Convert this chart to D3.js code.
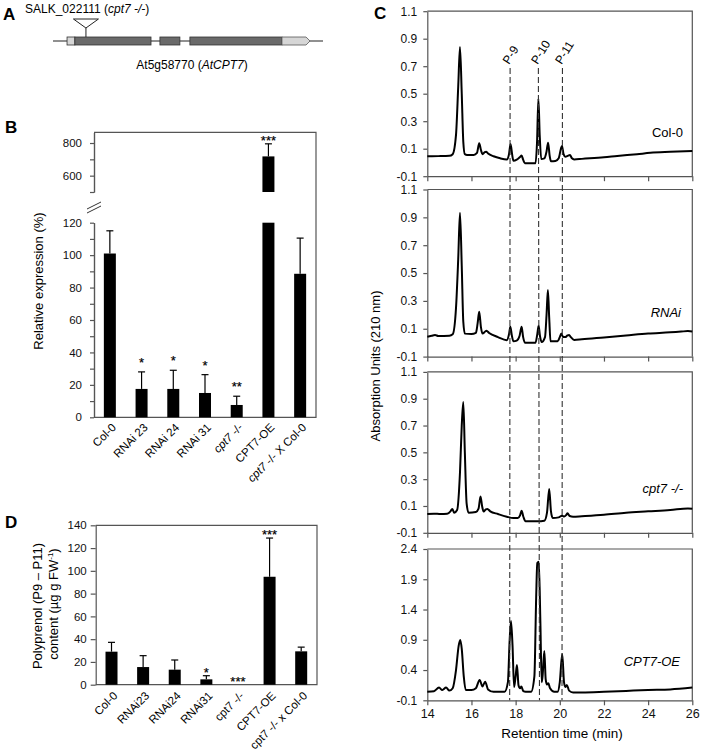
<!DOCTYPE html>
<html><head><meta charset="utf-8">
<script src="https://cdn.jsdelivr.net/npm/d3@7"></script>
<style>body{margin:0;background:#fff}svg{font-family:"Liberation Sans",Arial,sans-serif}</style>
</head><body><svg id="c" width="702" height="755"></svg>
<script>
// ---------------- DATA ----------------
// Panel A: gene model (relative gene coordinates, 0-1000)
const geneFeatures = [
  {type: "utr5", start: 52, end: 81},
  {type: "exon", start: 81, end: 363},
  {type: "exon", start: 396, end: 470},
  {type: "exon", start: 507, end: 848},
  {type: "utr3", start: 848, end: 952}
];
const insertionPos = 122;

// Panel B: relative expression (%)
const bCategories = ["Col-0", "RNAi 23", "RNAi 24", "RNAi 31", "cpt7 -/-", "CPT7-OE", "cpt7 -/- X Col-0"];
const bValues = [101, 17.5, 17.5, 15, 7.6, 718, 88.5];
const bErrors = [14, 10.5, 11.5, 11.3, 5.4, 77, 22];
const bStars = ["", "*", "*", "*", "**", "***", ""];
const bLowTicks = [0, 20, 40, 60, 80, 100, 120];
const bLowMinor = [10, 30, 50, 70, 90, 110];
const bHighTicks = [600, 800];
const bHighMinor = [500, 700];

// Panel D: polyprenol content
const dCategories = ["Col-0", "RNAi23", "RNAi24", "RNAi31", "cpt7 -/-", "CPT7-OE", "cpt7 -/- x Col-0"];
const dValues = [29, 15.5, 13.2, 4.7, 0, 94.8, 29.3];
const dErrors = [8.2, 10, 8.5, 3.2, 0, 34, 3.7];
const dStars = ["", "", "", "*", "***", "***", ""];
const dTicks = [0, 20, 40, 60, 80, 100, 120, 140];

// Panel C: chromatograms [retention time (min), absorbance]
const colTrace = [[14.0,0.045],[14.5,0.046],[15.0,0.048],[15.15,0.06],[15.3,0.2],[15.4,0.55],[15.48,0.84],[15.56,0.5],[15.63,0.15],[15.7,0.06],[15.8,0.055],[16.1,0.055],[16.25,0.07],[16.35,0.14],[16.43,0.09],[16.5,0.06],[16.6,0.075],[16.66,0.078],[16.75,0.065],[17.0,0.045],[17.3,0.03],[17.6,0.022],[17.7,0.06],[17.77,0.134],[17.84,0.06],[17.9,0.012],[18.05,0.02],[18.2,0.04],[18.27,0.05],[18.34,0.02],[18.42,-0.005],[18.7,-0.006],[18.9,-0.005],[18.97,0.15],[19.03,0.464],[19.09,0.2],[19.16,0.025],[19.3,0.03],[19.4,0.08],[19.47,0.144],[19.54,0.05],[19.6,0.008],[19.8,0.01],[19.95,0.03],[20.05,0.1],[20.1,0.12],[20.17,0.06],[20.25,0.042],[20.38,0.05],[20.46,0.054],[20.55,0.03],[20.65,0.022],[21.0,0.026],[22.0,0.037],[22.6,0.047],[23.5,0.06],[24.1,0.07],[25.0,0.077],[26.0,0.083]];
const rnaiTrace = [[14.0,0.043],[14.2,0.05],[14.35,0.055],[14.5,0.048],[15.0,0.05],[15.15,0.06],[15.3,0.25],[15.4,0.6],[15.48,0.933],[15.56,0.55],[15.63,0.15],[15.7,0.065],[16.0,0.062],[16.2,0.07],[16.28,0.14],[16.35,0.222],[16.43,0.11],[16.5,0.065],[16.62,0.08],[16.68,0.086],[16.8,0.07],[17.2,0.04],[17.6,0.018],[17.7,0.06],[17.76,0.114],[17.83,0.05],[17.9,0.01],[18.05,0.015],[18.18,0.05],[18.27,0.114],[18.34,0.04],[18.42,0.0],[18.9,0.0],[18.98,0.06],[19.04,0.122],[19.1,0.05],[19.18,0.005],[19.33,0.04],[19.4,0.2],[19.46,0.378],[19.52,0.18],[19.58,0.01],[19.9,0.01],[20.0,0.04],[20.07,0.066],[20.15,0.04],[20.25,0.04],[20.35,0.052],[20.42,0.055],[20.5,0.04],[20.65,0.02],[21.0,0.024],[22.0,0.038],[23.0,0.052],[24.0,0.066],[25.0,0.074],[25.5,0.08],[25.8,0.083],[26.0,0.08]];
const cptTrace = [[14.0,0.04],[14.3,0.043],[14.6,0.04],[14.9,0.042],[15.05,0.06],[15.13,0.078],[15.22,0.05],[15.35,0.07],[15.48,0.35],[15.56,0.7],[15.63,0.875],[15.7,0.5],[15.78,0.12],[15.87,0.05],[16.2,0.055],[16.32,0.08],[16.41,0.17],[16.48,0.1],[16.55,0.058],[16.65,0.075],[16.72,0.078],[16.85,0.06],[17.2,0.04],[17.6,0.02],[17.9,0.01],[18.1,0.01],[18.2,0.03],[18.27,0.065],[18.35,0.02],[18.45,-0.014],[19.0,-0.014],[19.3,-0.01],[19.42,0.05],[19.52,0.227],[19.6,0.06],[19.68,0.01],[19.95,0.015],[20.1,0.028],[20.2,0.022],[20.3,0.035],[20.35,0.045],[20.45,0.025],[20.6,0.02],[21.0,0.024],[22.0,0.035],[23.0,0.05],[24.0,0.06],[25.0,0.07],[25.8,0.082],[26.0,0.08]];
const oeTrace = [[14.0,0.043],[14.3,0.05],[14.53,0.11],[14.68,0.07],[14.85,0.11],[15.0,0.06],[15.15,0.1],[15.3,0.4],[15.42,0.8],[15.49,0.897],[15.56,0.75],[15.65,0.3],[15.74,0.07],[16.0,0.07],[16.2,0.1],[16.37,0.236],[16.5,0.13],[16.62,0.208],[16.75,0.08],[17.0,0.04],[17.5,0.04],[17.65,0.2],[17.73,0.9],[17.79,1.21],[17.86,0.8],[17.93,0.12],[18.0,0.3],[18.06,0.484],[18.13,0.15],[18.2,0.1],[18.26,0.126],[18.35,0.05],[18.45,0.04],[18.7,0.04],[18.85,0.3],[18.93,1.6],[18.98,2.17],[19.05,2.19],[19.12,1.2],[19.18,0.2],[19.22,0.3],[19.3,0.715],[19.36,0.25],[19.42,0.16],[19.48,0.18],[19.56,0.1],[19.75,0.04],[19.9,0.04],[20.0,0.2],[20.11,0.665],[20.19,0.2],[20.25,0.12],[20.32,0.153],[20.42,0.06],[20.6,0.03],[21.0,0.03],[22.0,0.04],[23.0,0.055],[24.0,0.07],[25.0,0.08],[26.0,0.11]];
const cNames = ["Col-0", "RNAi", "cpt7 -/-", "CPT7-OE"];
const cSmallTicks = [-0.1, 0.1, 0.3, 0.5, 0.7, 0.9, 1.1];
const cLargeTicks = [-0.1, 0.4, 0.9, 1.4, 1.9, 2.4];
const cTimeTicks = [14, 16, 18, 20, 22, 24, 26];
const peakMarkers = [{label: "P-9", t0: 17.75, t1: 17.73}, {label: "P-10", t0: 19.03, t1: 19.08}, {label: "P-11", t0: 20.12, t1: 20.1}];

// ---------------- DRAW ----------------
const svg = d3.select("#c");
const FRAME = "#555";
const FF = "'Liberation Sans', Arial, sans-serif";

[["A", 3, 20], ["B", 5, 133], ["C", 374, 18.5], ["D", 5, 528]].forEach(([t, x, y]) => {
  svg.append("text").attr("x", x).attr("y", y).attr("font-size", 17).attr("font-weight", "bold").text(t);
});

// ---- Panel A ----
(function () {
  const gx = d3.scaleLinear().domain([0, 1000]).range([53, 323]);
  const g = svg.append("g");
  const yl = 41, h = 8;
  g.append("line").attr("x1", gx(0)).attr("x2", gx(1000)).attr("y1", yl).attr("y2", yl).attr("stroke", "#222").attr("stroke-width", 1.2);
  geneFeatures.forEach(f => {
    const x0 = gx(f.start), x1 = gx(f.end);
    if (f.type === "utr3") {
      const xb = x1 - 4;
      g.append("path").attr("d", `M${x0},${yl - h / 2}H${xb}L${x1},${yl}L${xb},${yl + h / 2}H${x0}Z`)
        .attr("fill", "#d6d6d6").attr("stroke", "#555").attr("stroke-width", 0.8);
    } else {
      g.append("rect").attr("x", x0).attr("y", yl - h / 2).attr("width", x1 - x0).attr("height", h)
        .attr("fill", f.type === "exon" ? "#6a6a6a" : "#d6d6d6").attr("stroke", "#333").attr("stroke-width", 0.8);
    }
  });
  const ix = gx(insertionPos);
  g.append("line").attr("x1", ix).attr("x2", ix).attr("y1", 28).attr("y2", yl - h / 2).attr("stroke", "#222").attr("stroke-width", 1);
  g.append("path").attr("d", `M${ix - 12.5},19H${ix + 12.5}L${ix},28Z`).attr("fill", "#fff").attr("stroke", "#222").attr("stroke-width", 1);
  const t1 = g.append("text").attr("x", 25).attr("y", 13).attr("font-size", 12);
  t1.append("tspan").text("SALK_022111 (");
  t1.append("tspan").attr("font-style", "italic").text("cpt7 -/-");
  t1.append("tspan").text(")");
  const t2 = g.append("text").attr("x", 192).attr("y", 69).attr("font-size", 12).attr("text-anchor", "middle");
  t2.append("tspan").text("At5g58770 (");
  t2.append("tspan").attr("font-style", "italic").text("AtCPT7");
  t2.append("tspan").text(")");
})();

function styleAxis(sel, fs) {
  sel.selectAll("path").attr("stroke", FRAME).attr("stroke-width", 1.2);
  sel.selectAll("line").attr("stroke", FRAME).attr("stroke-width", 1.2);
  sel.selectAll("text").attr("font-size", fs).attr("fill", "#111").attr("font-family", FF);
}
function star(g, x, y, s) {
  g.append("text").attr("x", x).attr("y", y).attr("text-anchor", "middle").attr("font-size", 13)
    .attr("font-family", FF).attr("fill", "#000").attr("stroke", "#000").attr("stroke-width", 0.2).text(s);
}

// ---- Panel B ----
(function () {
  const L = 94, R = 316;
  const bx = d3.scalePoint().domain(bCategories).range([L, R]).padding(0.5);
  const yLow = d3.scaleLinear().domain([0, 120]).range([417.3, 222.7]);
  const yHigh = d3.scaleLinear().domain([500, 865]).range([192, 132.4]);
  const g = svg.append("g");
  const bw = 12;
  g.append("path").attr("d", `M${L},${yHigh(865)}H${R}V${yLow(0)}H${L}`).attr("fill", "none").attr("stroke", FRAME).attr("stroke-width", 1.2);
  const aLow = g.append("g").attr("transform", `translate(${L},0)`)
    .call(d3.axisLeft(yLow).tickValues(bLowTicks).tickSize(4).tickPadding(8).tickSizeOuter(0));
  styleAxis(aLow, 11.5);
  const aLowM = g.append("g").attr("transform", `translate(${L},0)`)
    .call(d3.axisLeft(yLow).tickValues(bLowMinor).tickSize(4).tickFormat("").tickSizeOuter(0));
  styleAxis(aLowM, 11.5);
  const aHigh = g.append("g").attr("transform", `translate(${L},0)`)
    .call(d3.axisLeft(yHigh).tickValues(bHighTicks).tickSize(4).tickPadding(8).tickSizeOuter(0));
  styleAxis(aHigh, 11.5);
  const aHighM = g.append("g").attr("transform", `translate(${L},0)`)
    .call(d3.axisLeft(yHigh).tickValues(bHighMinor).tickSize(4).tickFormat("").tickSizeOuter(0));
  styleAxis(aHighM, 11.5);
  [0, 4].forEach(o => {
    g.append("line").attr("x1", 87).attr("y1", 209 + o).attr("x2", 101).attr("y2", 202 + o)
      .attr("stroke", "#333").attr("stroke-width", 1);
  });
  bCategories.forEach((c, i) => {
    const cx = bx(c), v = bValues[i], e = bErrors[i];
    let yTop;
    if (v > 120) {
      g.append("rect").attr("x", cx - bw / 2).attr("y", yHigh(v)).attr("width", bw).attr("height", yHigh(500) - yHigh(v)).attr("fill", "#000");
      g.append("rect").attr("x", cx - bw / 2).attr("y", yLow(120)).attr("width", bw).attr("height", yLow(0) - yLow(120)).attr("fill", "#000");
      yTop = yHigh(v + e);
      g.append("line").attr("x1", cx).attr("x2", cx).attr("y1", yHigh(v)).attr("y2", yTop).attr("stroke", "#000").attr("stroke-width", 1.2);
    } else {
      g.append("rect").attr("x", cx - bw / 2).attr("y", yLow(v)).attr("width", bw).attr("height", yLow(0) - yLow(v)).attr("fill", "#000");
      yTop = yLow(v + e);
      g.append("line").attr("x1", cx).attr("x2", cx).attr("y1", yLow(v)).attr("y2", yTop).attr("stroke", "#000").attr("stroke-width", 1.2);
    }
    g.append("line").attr("x1", cx - 3.5).attr("x2", cx + 3.5).attr("y1", yTop).attr("y2", yTop).attr("stroke", "#000").attr("stroke-width", 1.2);
    if (bStars[i]) star(g, cx, Math.max(yTop - 5, 145), bStars[i]);
    const lab = g.append("text").attr("transform", `translate(${cx + 4},${yLow(0) + 8}) rotate(-45)`)
      .attr("text-anchor", "end").attr("font-size", 11.5).attr("dy", "0.35em");
    if (c.startsWith("cpt7")) {
      lab.append("tspan").attr("font-style", "italic").text("cpt7");
      lab.append("tspan").text(c.slice(4));
    } else lab.text(c);
  });
  g.append("text").attr("transform", `translate(43,281) rotate(-90)`).attr("text-anchor", "middle").attr("font-size", 13).text("Relative expression (%)");
})();

// ---- Panel D ----
(function () {
  const L = 95.7, R = 317;
  const dx = d3.scalePoint().domain(dCategories).range([L, R]).padding(0.5);
  const y = d3.scaleLinear().domain([0, 140]).range([684.7, 525.3]);
  const g = svg.append("g");
  const bw = 12;
  g.append("path").attr("d", `M${L},${y(140)}H${R}V${y(0)}H${L}`).attr("fill", "none").attr("stroke", FRAME).attr("stroke-width", 1.2);
  const ax = g.append("g").attr("transform", `translate(${L},0)`)
    .call(d3.axisLeft(y).tickValues(dTicks).tickSize(5).tickPadding(4).tickSizeOuter(0));
  styleAxis(ax, 11.5);
  dCategories.forEach((c, i) => {
    const cx = dx(c), v = dValues[i], e = dErrors[i];
    if (v > 0) {
      g.append("rect").attr("x", cx - bw / 2).attr("y", y(v)).attr("width", bw).attr("height", y(0) - y(v)).attr("fill", "#000");
      g.append("line").attr("x1", cx).attr("x2", cx).attr("y1", y(v)).attr("y2", y(v + e)).attr("stroke", "#000").attr("stroke-width", 1.2);
      g.append("line").attr("x1", cx - 3.5).attr("x2", cx + 3.5).attr("y1", y(v + e)).attr("y2", y(v + e)).attr("stroke", "#000").attr("stroke-width", 1.2);
    }
    if (dStars[i]) star(g, cx, y(v + e) + 1, dStars[i]);
    g.append("text").attr("transform", `translate(${cx + 4},${y(0) + 9}) rotate(-45)`)
      .attr("text-anchor", "end").attr("font-size", 11.5).attr("dy", "0.35em").text(c);
  });
  g.append("text").attr("transform", `translate(42,606) rotate(-90)`).attr("text-anchor", "middle").attr("font-size", 13).text("Polyprenol (P9 \u2013 P11)");
  const t = g.append("text").attr("transform", `translate(58,604) rotate(-90)`).attr("text-anchor", "middle").attr("font-size", 13);
  t.append("tspan").text("content (\u00b5g g FW");
  t.append("tspan").attr("font-size", 8).attr("dy", -5).text("-1");
  t.append("tspan").attr("dy", 5).text(")");
})();

// ---- Panel C ----
(function () {
  const L = 427.3, R = 692.3;
  const x = d3.scaleLinear().domain([14, 26]).range([L, R]);
  const traces = [colTrace, rnaiTrace, cptTrace, oeTrace];
  const layout = [
    {top: 11.2, bottom: 176.2, dom: [-0.1, 1.1], ticks: cSmallTicks, labX: 683, labDy: -39, italic: false},
    {top: 189.5, bottom: 356.6, dom: [-0.1, 1.1], ticks: cSmallTicks, labX: 681, labDy: -40, italic: true},
    {top: 371.9, bottom: 532.8, dom: [-0.1, 1.1], ticks: cSmallTicks, labX: 683, labDy: -40, italic: true},
    {top: 549, bottom: 700.3, dom: [-0.1, 2.4], ticks: cLargeTicks, labX: 680, labDy: -34, italic: true}
  ];
  const g = svg.append("g");
  layout.forEach((lo, i) => {
    const y = d3.scaleLinear().domain(lo.dom).range([lo.bottom, lo.top]);
    const sg = g.append("g");
    sg.append("path").attr("d", `M${L},${lo.top}H${R}V${lo.bottom}`).attr("fill", "none").attr("stroke", FRAME).attr("stroke-width", 1.2);
    const ay = sg.append("g").attr("transform", `translate(${L},0)`)
      .call(d3.axisLeft(y).tickValues(lo.ticks).tickSize(4).tickPadding(6).tickSizeOuter(0).tickFormat(d => d.toFixed(1)));
    styleAxis(ay, 12);
    const axb = sg.append("g").attr("transform", `translate(0,${lo.bottom})`)
      .call(d3.axisBottom(x).tickValues(cTimeTicks).tickSize(5).tickPadding(4).tickSizeOuter(0)
        .tickFormat(i === 3 ? d3.format("d") : ""));
    styleAxis(axb, 12.5);
    const line = d3.line().x(d => x(d[0])).y(d => y(d[1])).curve(d3.curveMonotoneX);
    sg.append("path").datum(traces[i]).attr("d", line).attr("fill", "none").attr("stroke", "#000")
      .attr("stroke-width", 2).attr("stroke-linejoin", "round");
    sg.append("text").attr("x", lo.labX).attr("y", lo.bottom + lo.labDy).attr("text-anchor", "end")
      .attr("font-size", 13).attr("font-style", lo.italic ? "italic" : "normal").text(cNames[i]);
  });
  peakMarkers.forEach(p => {
    g.append("line").attr("x1", x(p.t0)).attr("x2", x(p.t1)).attr("y1", 68).attr("y2", 700.3)
      .attr("stroke", "#333").attr("stroke-width", 1.1).attr("stroke-dasharray", "6,3");
    g.append("text").attr("transform", `translate(${x(p.t0) - 1},65) rotate(-58)`).attr("font-size", 12).text(p.label);
  });
  g.append("text").attr("x", 562).attr("y", 738).attr("text-anchor", "middle").attr("font-size", 13.5).text("Retention time (min)");
  g.append("text").attr("transform", `translate(380,366) rotate(-90)`).attr("text-anchor", "middle").attr("font-size", 13).text("Absorption Units (210 nm)");
})();
</script></body></html>
